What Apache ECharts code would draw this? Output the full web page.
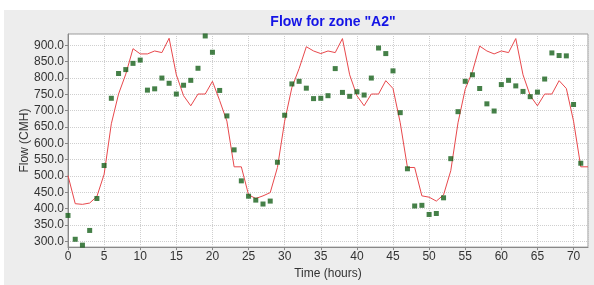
<!DOCTYPE html>
<html>
<head>
<meta charset="utf-8">
<script src="https://cdn.jsdelivr.net/npm/echarts@6/dist/echarts.min.js"></script>
<style>
  html, body { margin: 0; padding: 0; background: #ffffff; }
  #panel { position: absolute; left: 4px; top: 10px; width: 590px; height: 275px; background: #ededed; }
  #flowChart { width: 590px; height: 275px; }
</style>
</head>
<body>
<div id="panel"><div id="flowChart"></div></div>
<script>
// modelled flow (red line), one value per hour 0..72
var hoursLine = [];
for (var i = 0; i <= 72; i++) hoursLine.push(i);
var modelFlow = [
  501, 415, 413, 417, 437, 505, 660, 751, 812, 890,
  874, 874, 883, 878, 922, 810, 746, 715, 751, 751,
  790, 731, 668, 528, 528, 442, 431, 439, 449, 526,
  668, 771, 829, 896, 883, 875, 883, 878, 921, 810,
  746, 715, 751, 751, 792, 768, 663, 526, 526, 439,
  435, 423, 442, 516, 663, 766, 820, 898, 883, 874,
  883, 878, 921, 810, 746, 715, 751, 751, 792, 768,
  668, 528, 528
];

// measured flow (green squares), hours 0..71
var measuredFlow = [
  379, 306, 288, 333, 431, 532, 738, 814, 826, 845,
  855, 763, 767, 800, 784, 751, 778, 793, 830, 929,
  879, 762, 684, 580, 485, 438, 426, 414, 423, 542,
  686, 782, 790, 769, 737, 738, 746, 829, 756, 744,
  758, 748, 800, 892, 875, 822, 694, 522, 408, 410,
  382, 385, 433, 553, 697, 790, 810, 768, 721, 699,
  780, 793, 776, 759, 743, 757, 797, 877, 869, 868,
  719, 539
];

var chartTitle = 'Flow for zone "A2"';
var xName = 'Time (hours)';
var yName = 'Flow (CMH)';

var chart = echarts.init(document.getElementById('flowChart'));
var axisFont = { fontFamily: 'Liberation Sans', fontSize: 12, color: '#333' };

chart.setOption({
  animation: false,
  title: {
    text: chartTitle,
    left: 324, top: 0, textAlign: 'center',
    textStyle: { fontFamily: 'Liberation Sans', fontSize: 14, fontWeight: 'bold', color: '#1414e6' }
  },
  grid: {
    left: 64, right: 6, top: 24, bottom: 29,
    show: true, backgroundColor: '#ffffff', borderColor: '#9a9a9a', borderWidth: 1
  },
  xAxis: {
    type: 'value', min: 0, max: 72, interval: 5,
    name: xName, nameLocation: 'middle', nameGap: 17,
    nameTextStyle: axisFont,
    axisLine: { show: true, lineStyle: { color: '#888' } },
    axisTick: { show: true, length: 3, lineStyle: { color: '#888' } },
    axisLabel: Object.assign({ margin: 4, showMaxLabel: false }, axisFont),
    splitLine: { show: true, lineStyle: { color: '#cfcfcf', type: 'dotted' } }
  },
  yAxis: {
    type: 'value', min: 282, max: 935, splitNumber: 13,
    name: yName, nameLocation: 'middle', nameGap: 37, nameMoveOverlap: false,
    nameTextStyle: axisFont,
    axisLine: { show: true, lineStyle: { color: '#888' } },
    axisTick: { show: true, length: 3, lineStyle: { color: '#888' } },
    axisLabel: Object.assign({
      margin: 4, showMinLabel: false, showMaxLabel: false,
      formatter: function (v) { return v % 50 === 0 ? v.toFixed(1) : ''; }
    }, axisFont),
    splitLine: { show: true, lineStyle: { color: '#cfcfcf', type: 'dotted' } }
  },
  series: [
    {
      name: 'Modelled',
      type: 'line',
      data: hoursLine.map(function (h, k) { return [h, modelFlow[k]]; }),
      showSymbol: false,
      lineStyle: { color: '#e8484c', width: 1 },
      z: 2
    },
    {
      name: 'Measured',
      type: 'scatter',
      data: measuredFlow.map(function (v, k) { return [k, v]; }),
      symbol: 'rect',
      symbolSize: 5,
      itemStyle: { color: '#17601a' },
      z: 3
    }
  ]
});
</script>
</body>
</html>
